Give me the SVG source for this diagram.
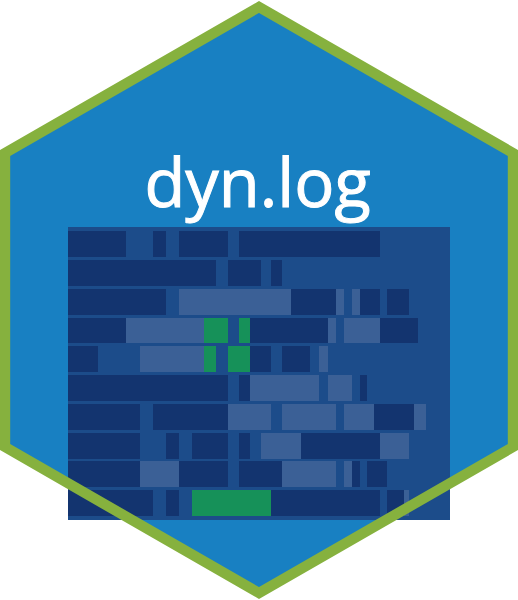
<svg xmlns="http://www.w3.org/2000/svg" width="518" height="600" viewBox="0 0 518 600">
<style>
.d{fill:#13346f}.l{fill:#3b6096}.g{fill:#169159}
text{font-family:"Open Sans","Noto Sans",sans-serif;font-size:66.8px;fill:#fff;stroke:#fff;stroke-width:1}
</style>
<rect width="518" height="600" fill="#fff"/>
<polygon points="259,7 513,153 513,447 259,593 5,447 5,153" fill="#1880c2"/>
<text x="144.5" y="207">dyn.log</text>
<rect x="68" y="227" width="382" height="293" fill="#1c4c8a"/>
<g id="row1" class="d"><rect x="68" y="231" width="58" height="26"/><rect x="153" y="231" width="13" height="26"/><rect x="179" y="231" width="49" height="26"/><rect x="239" y="231" width="141" height="26"/></g>
<g id="row2" class="d"><rect x="68" y="260" width="148" height="26"/><rect x="228" y="260" width="33" height="26"/><rect x="271" y="260" width="11" height="26"/></g>
<g id="row3"><rect class="d" x="68" y="289" width="98" height="26"/><rect class="l" x="179" y="289" width="112" height="26"/><rect class="d" x="291" y="289" width="45" height="26"/><rect class="l" x="336" y="289" width="8" height="26"/><rect class="l" x="352" y="289" width="8" height="26"/><rect class="d" x="360" y="289" width="20" height="26"/><rect class="d" x="387" y="289" width="22" height="26"/></g>
<g id="row4"><rect class="d" x="68" y="318" width="58" height="25"/><rect class="l" x="126" y="318" width="78" height="25"/><rect class="g" x="204" y="318" width="24" height="25"/><rect class="g" x="239" y="318" width="11" height="25"/><rect class="d" x="250" y="318" width="78" height="25"/><rect class="l" x="328" y="318" width="8" height="25"/><rect class="l" x="344" y="318" width="36" height="25"/><rect class="d" x="380" y="318" width="38" height="25"/></g>
<g id="row5"><rect class="d" x="68" y="346" width="30" height="26"/><rect class="l" x="140" y="346" width="64" height="26"/><rect class="g" x="204" y="346" width="12" height="26"/><rect class="g" x="228" y="346" width="22" height="26"/><rect class="d" x="250" y="346" width="21" height="26"/><rect class="d" x="282" y="346" width="28" height="26"/><rect class="l" x="319" y="346" width="9" height="26"/></g>
<g id="row6"><rect class="d" x="68" y="375" width="160" height="26"/><rect class="d" x="239" y="375" width="11" height="26"/><rect class="l" x="250" y="375" width="69" height="26"/><rect class="l" x="328" y="375" width="24" height="26"/><rect class="d" x="360" y="375" width="7" height="26"/></g>
<g id="row7"><rect class="d" x="68" y="404" width="72" height="26"/><rect class="d" x="153" y="404" width="75" height="26"/><rect class="l" x="228" y="404" width="43" height="26"/><rect class="l" x="282" y="404" width="54" height="26"/><rect class="l" x="344" y="404" width="30" height="26"/><rect class="d" x="374" y="404" width="40" height="26"/><rect class="l" x="414" y="404" width="12" height="26"/></g>
<g id="row8"><rect class="d" x="68" y="433" width="72" height="26"/><rect class="d" x="166" y="433" width="13" height="26"/><rect class="d" x="192" y="433" width="36" height="26"/><rect class="d" x="239" y="433" width="11" height="26"/><rect class="l" x="261" y="433" width="40" height="26"/><rect class="d" x="301" y="433" width="79" height="26"/><rect class="l" x="380" y="433" width="29" height="26"/></g>
<g id="row9"><rect class="d" x="68" y="461" width="72" height="26"/><rect class="l" x="140" y="461" width="39" height="26"/><rect class="d" x="179" y="461" width="49" height="26"/><rect class="d" x="239" y="461" width="43" height="26"/><rect class="l" x="282" y="461" width="54" height="26"/><rect class="l" x="344" y="461" width="8" height="26"/><rect class="d" x="352" y="461" width="8" height="26"/><rect class="d" x="367" y="461" width="20" height="26"/></g>
<g id="row10"><rect class="d" x="68" y="490" width="85" height="26"/><rect class="d" x="166" y="490" width="13" height="26"/><rect class="g" x="192" y="490" width="79" height="26"/><rect class="d" x="271" y="490" width="109" height="26"/><rect class="d" x="387" y="490" width="17" height="26"/><rect class="l" x="404" y="490" width="5" height="26"/></g>
<polygon id="border" points="259,7 513,153 513,447 259,593 5,447 5,153" fill="none" stroke="#86b13e" stroke-width="10.4"/>
</svg>
